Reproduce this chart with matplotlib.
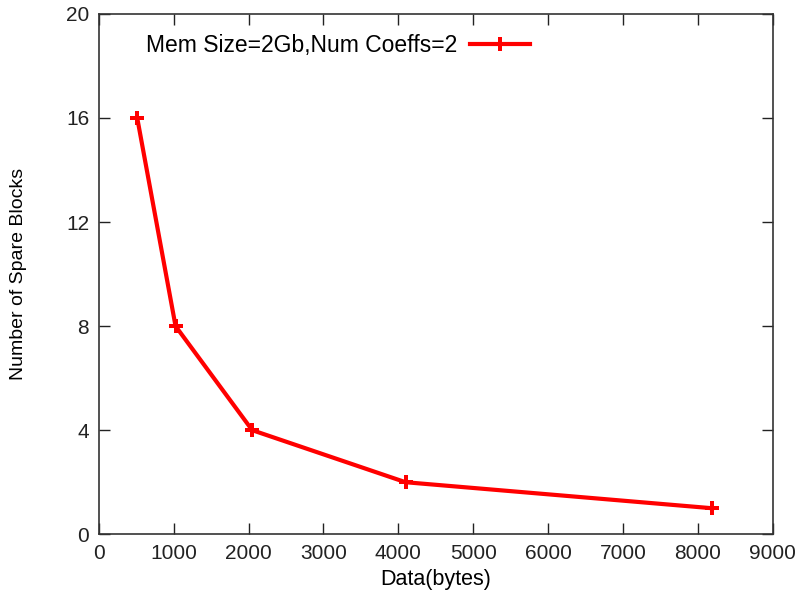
import numpy as np
import matplotlib
matplotlib.use('Agg')
import matplotlib.pyplot as plt

plt.rcParams['font.family'] = ['Liberation Sans', 'DejaVu Sans']

# data
data_bytes = [512, 1024, 2048, 4096, 8192]
spare_blocks = [16, 8, 4, 2, 1]
label = 'Mem Size=2Gb,Num Coeffs=2'

fig = plt.figure(figsize=(8.04, 6.03), dpi=100)
ax = fig.add_axes([0.123, 0.114, 0.838, 0.863])

ax.plot(data_bytes, spare_blocks, color='#ff0000', lw=3, marker='P',
        markersize=10, markeredgewidth=0, label=label)

ax.set_xlim(0, 9000)
ax.set_ylim(0, 20)
ax.set_xticks(np.arange(0, 9001, 1000))
ax.set_yticks([0, 4, 8, 12, 16, 20])
ax.tick_params(direction='in', length=8, width=1, top=True, right=True,
               labelsize=15, colors='#222222', pad=7)
for s in ax.spines.values():
    s.set_linewidth(1.2)
    s.set_color('#333333')

ax.set_xlabel('Data(bytes)', fontsize=15.5, labelpad=4)
ax.set_ylabel('Number of Spare Blocks', fontsize=14, labelpad=28)

leg = ax.legend(loc='upper left', bbox_to_anchor=(0.04, 1.0), frameon=False,
                markerfirst=False, fontsize=16.5, handlelength=2.6,
                handletextpad=0.55)

plt.savefig('out.png', dpi=100)
